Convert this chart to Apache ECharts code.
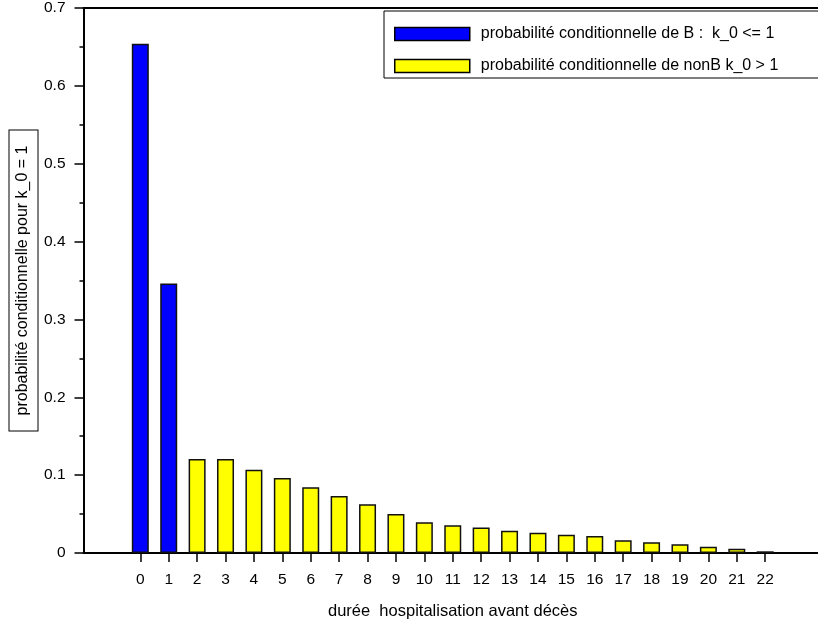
<!DOCTYPE html>
<html>
<head>
<meta charset="utf-8">
<script src="https://cdn.jsdelivr.net/npm/echarts@6/dist/echarts.min.js"></script>
<style>
html,body{margin:0;padding:0;background:#fff;}
#chart{width:818px;height:625px;}
</style>
</head>
<body>
<div id="chart"></div>
<script>
// Data
const categories = [0,1,2,3,4,5,6,7,8,9,10,11,12,13,14,15,16,17,18,19,20,21,22];
const blueCats = [0, 1];
const blueValues = [0.654, 0.346];
const yellowCats = [2,3,4,5,6,7,8,9,10,11,12,13,14,15,16,17,18,19,20,21,22];
const yellowValues = [0.1207, 0.1207, 0.107, 0.0963, 0.0843, 0.0732, 0.0625, 0.0501, 0.0394, 0.0355, 0.0328,
                      0.0287, 0.026, 0.0235, 0.0218, 0.0163, 0.0137, 0.0111, 0.0081, 0.0055, 0.0022];
const seriesNames = ['probabilité conditionnelle de B :  k_0 <= 1', 'probabilité conditionnelle de nonB k_0 > 1'];
const xTitle = 'durée  hospitalisation avant décès';
const yTitle = 'probabilité conditionnelle pour k_0 = 1';

const FONT = 'Liberation Sans, Arial, Helvetica, sans-serif';
const chart = echarts.init(document.getElementById('chart'), null, {renderer: 'canvas'});

const option = {
  animation: false,
  backgroundColor: '#ffffff',
  textStyle: {fontFamily: FONT, color: '#000'},
  grid: {left: 83.5, top: 8, right: -4, bottom: 72, containLabel: false, outerBoundsMode: 'none'},
  legend: {
    orient: 'vertical',
    left: 384,
    top: 11,
    backgroundColor: '#ffffff',
    borderColor: '#000',
    borderWidth: 1,
    borderRadius: 0,
    padding: [14, 80, 3, 10],
    itemWidth: 75,
    itemHeight: 13,
    itemGap: 14,
    textStyle: {fontFamily: FONT, fontSize: 16, lineHeight: 18, color: '#000', padding: [0, 0, 0, 6]},
    itemStyle: {borderColor: '#000', borderWidth: 1.5},
    data: seriesNames.map(n => ({name: n, icon: 'rect'}))
  },
  xAxis: [{
    type: 'value',
    min: -2,
    max: 24,
    interval: 1,
    name: xTitle,
    nameLocation: 'middle',
    nameGap: 50,
    nameMoveOverlap: false,
    nameTextStyle: {fontFamily: FONT, fontSize: 16.5, color: '#000'},
    axisLine: {show: true, onZero: false, lineStyle: {color: '#000', width: 2}},
    axisTick: {show: true, length: 9, inside: false, lineStyle: {color: '#000', width: 1.5}, customValues: categories},
    axisLabel: {show: true, margin: 19, fontFamily: FONT, fontSize: 15.5, color: '#000', customValues: categories},
    splitLine: {show: false}
  }, {
    type: 'value',
    position: 'top',
    min: -2,
    max: 24,
    axisLine: {show: true, onZero: false, lineStyle: {color: '#000', width: 2}},
    axisTick: {show: false},
    axisLabel: {show: false},
    splitLine: {show: false}
  }],
  yAxis: {
    type: 'value',
    min: 0,
    max: 0.7,
    interval: 0.1,
    name: yTitle,
    nameLocation: 'middle',
    nameRotate: 90,
    nameGap: 46,
    nameMoveOverlap: false,
    nameTextStyle: {
      fontFamily: FONT, fontSize: 16, color: '#000',
      borderColor: '#000', borderWidth: 1, padding: [5, 15, 7, 15], backgroundColor: '#fff'
    },
    axisLine: {show: true, onZero: false, lineStyle: {color: '#000', width: 2}},
    axisTick: {show: true, length: 9, lineStyle: {color: '#000', width: 1.5}},
    minorTick: {show: true, splitNumber: 2, length: 4, lineStyle: {color: '#000', width: 1.5}},
    axisLabel: {margin: 18, fontFamily: FONT, fontSize: 15.5, color: '#000',
      formatter: v => String(Math.round(v * 10) / 10)},
    splitLine: {show: false}
  },
  series: [{
    name: seriesNames[0],
    type: 'bar',
    xAxisIndex: 0,
    barWidth: 17,
    barGap: '-100%',
    itemStyle: {color: '#0000ff', borderColor: '#111', borderWidth: 1.5},
    data: blueCats.map((c, i) => [c, blueValues[i]])
  }, {
    name: seriesNames[1],
    type: 'bar',
    xAxisIndex: 0,
    barWidth: 17,
    barGap: '-100%',
    itemStyle: {color: '#ffff00', borderColor: '#111', borderWidth: 1.5},
    data: yellowCats.map((c, i) => [c, yellowValues[i]])
  }]
};
chart.setOption(option);
</script>
</body>
</html>
